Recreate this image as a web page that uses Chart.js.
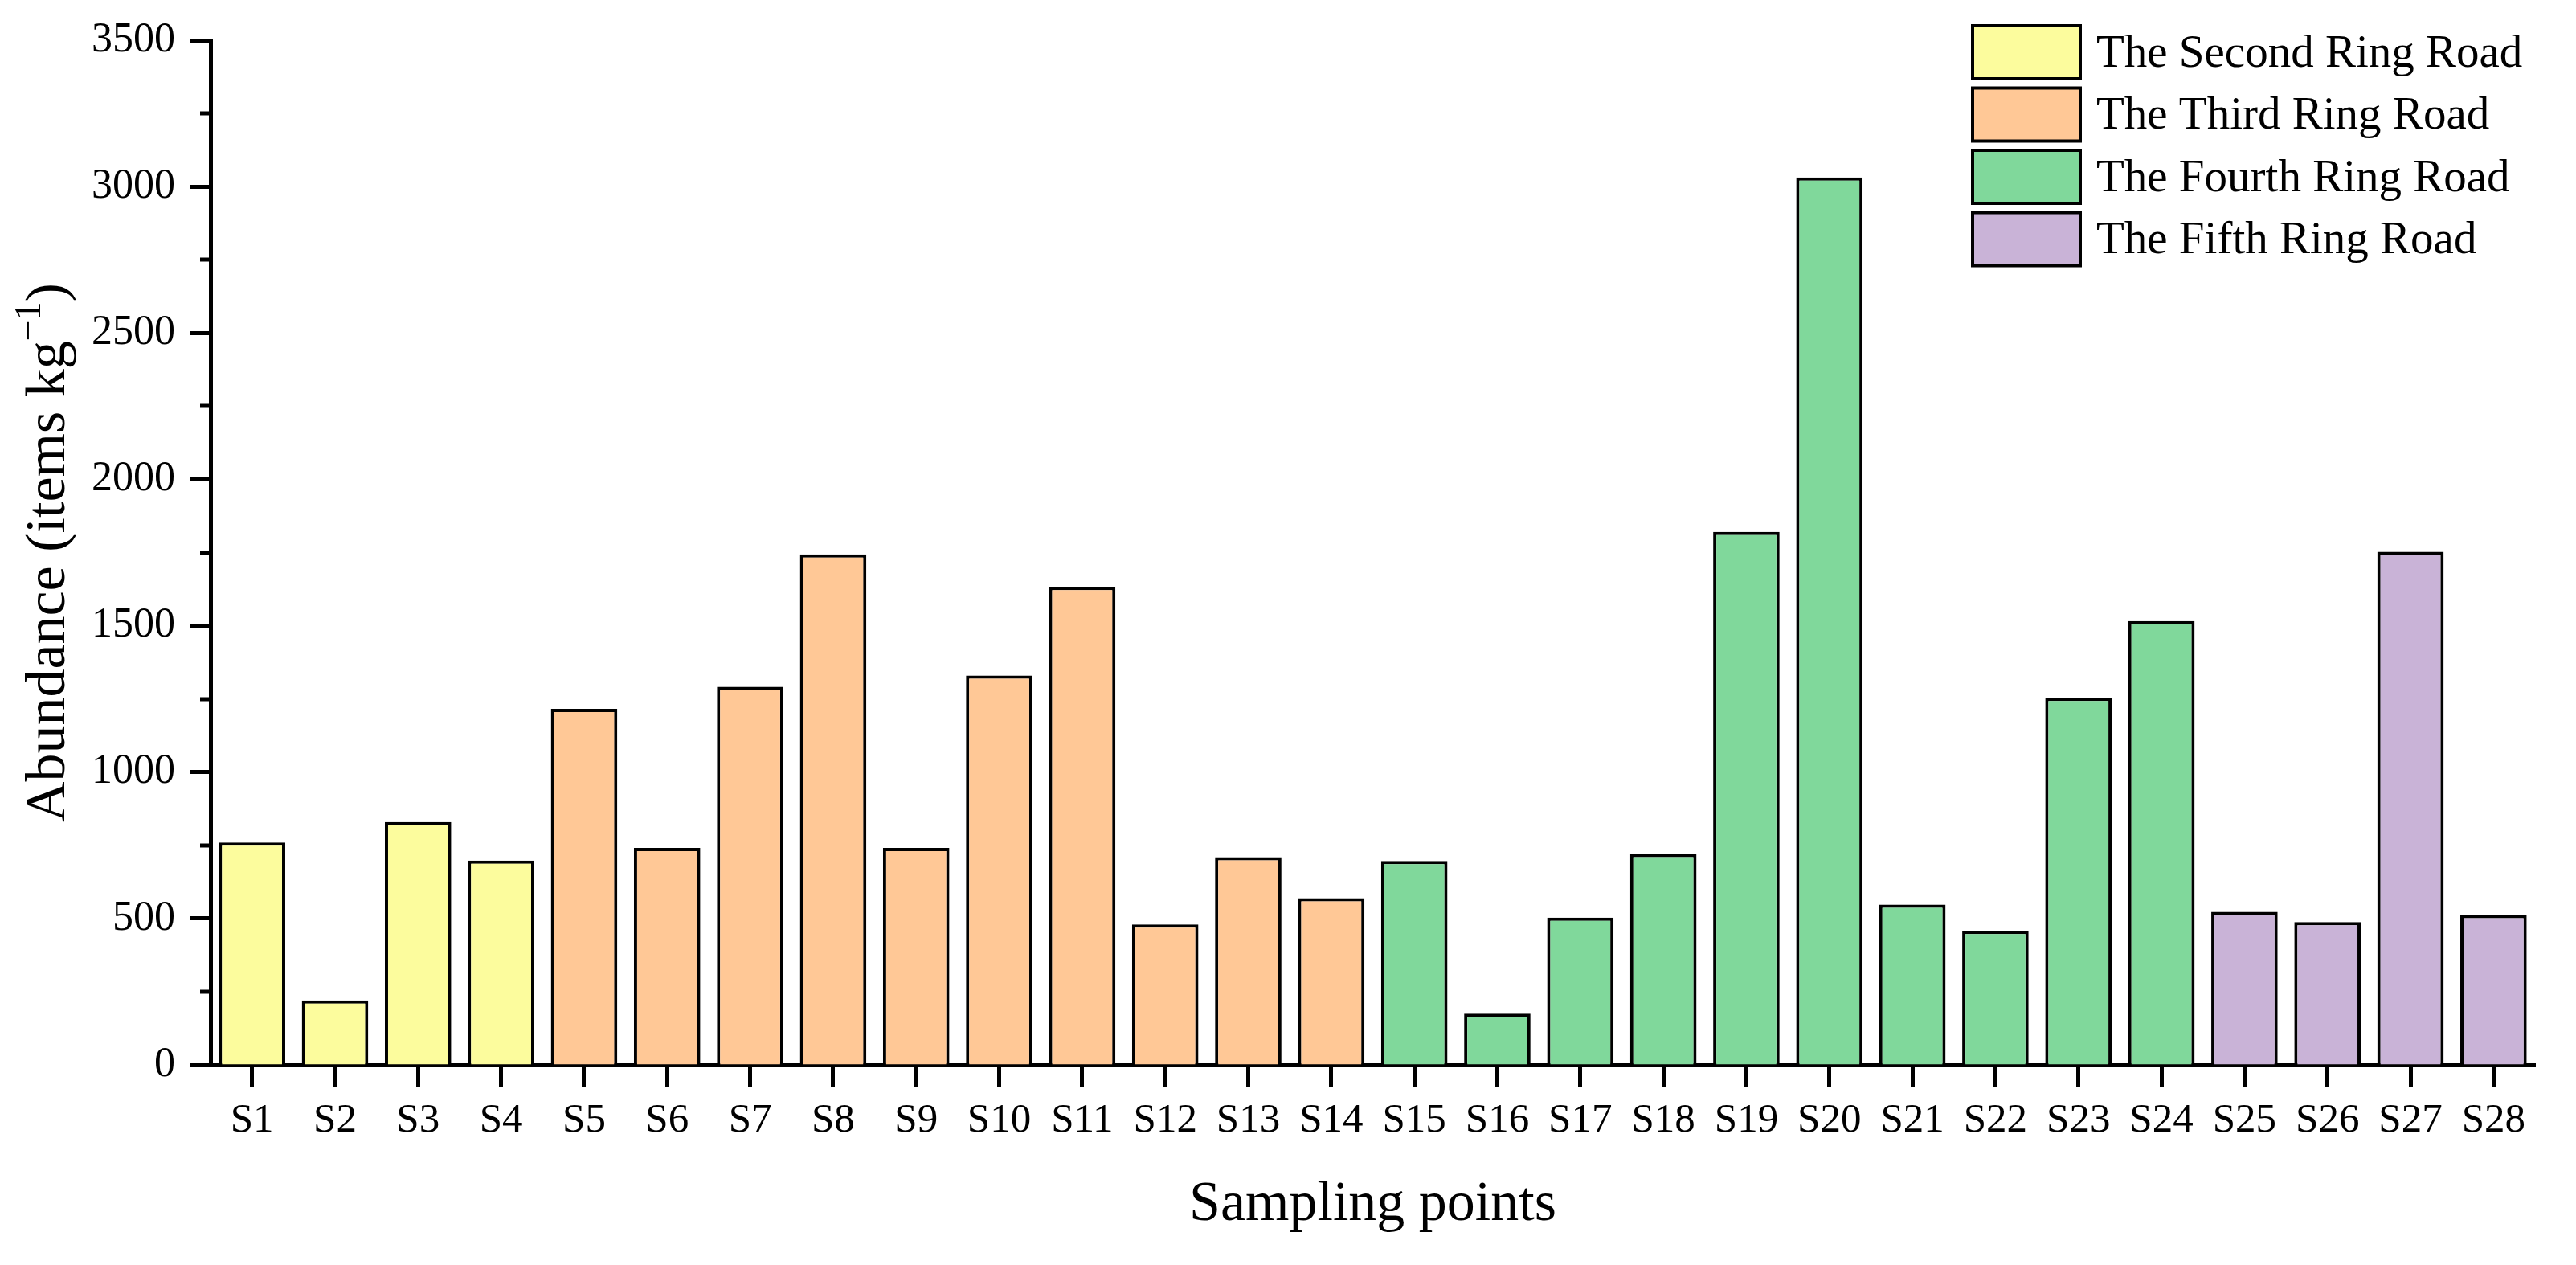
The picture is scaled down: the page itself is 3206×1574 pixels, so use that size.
<!DOCTYPE html>
<html>
<head>
<meta charset="utf-8">
<script src="https://cdn.jsdelivr.net/npm/chart.js@4/dist/chart.umd.min.js"></script>
<style>
  html, body { margin: 0; padding: 0; background: #fff; }
  canvas { display: block; }
</style>
</head>
<body>
<canvas id="chart" width="3206" height="1574"></canvas>
<script>
const categories = ['S1', 'S2', 'S3', 'S4', 'S5', 'S6', 'S7', 'S8', 'S9', 'S10', 'S11', 'S12', 'S13', 'S14',
    'S15', 'S16', 'S17', 'S18', 'S19', 'S20', 'S21', 'S22', 'S23', 'S24', 'S25', 'S26', 'S27', 'S28'];
const abundance = [760, 220, 830, 698, 1216, 741, 1292, 1744, 741, 1330, 1633, 480, 710, 570,
    697, 175, 503, 721, 1821, 3032, 548, 458, 1254, 1516, 523, 488, 1753, 512];
// ring road group of each sampling point (index into groupNames)
const ringGroup = [0, 0, 0, 0, 1, 1, 1, 1, 1, 1, 1, 1, 1, 1, 2, 2, 2, 2, 2, 2, 2, 2, 2, 2, 3, 3, 3, 3];
const groupNames = ['The Second Ring Road', 'The Third Ring Road', 'The Fourth Ring Road', 'The Fifth Ring Road'];
const groupColors = ['#FCFC9D', '#FFC896', '#80D89B', '#C9B3D7'];
const yTicks = [0, 500, 1000, 1500, 2000, 2500, 3000, 3500];
const yMinorTicks = [250, 750, 1250, 1750, 2250, 2750, 3250];

const FONT = '"Liberation Serif", "Times New Roman", serif';

// short minor ticks on the y axis
const minorTicks = {
    id: 'minorTicks',
    afterDraw(chart) {
        const ctx = chart.ctx;
        const y = chart.scales.y;
        ctx.save();
        ctx.strokeStyle = '#000';
        ctx.lineWidth = 5;
        yMinorTicks.forEach((v) => {
            const py = Math.round(y.getPixelForValue(v));
            ctx.beginPath();
            ctx.moveTo(y.right - 13, py);
            ctx.lineTo(y.right, py);
            ctx.stroke();
        });
        ctx.restore();
    }
};

// y axis title with a real superscript
const yTitle = {
    id: 'yTitle',
    afterDraw(chart) {
        const ctx = chart.ctx;
        const area = chart.chartArea;
        const main = '70px ' + FONT;
        const sup = '46px ' + FONT;
        const partA = 'Abundance (items kg';
        const partB = '\u22121';
        const partC = ')';
        ctx.save();
        ctx.fillStyle = '#000';
        ctx.textBaseline = 'alphabetic';
        ctx.font = main;
        const wA = ctx.measureText(partA).width;
        const wC = ctx.measureText(partC).width;
        ctx.font = sup;
        const wB = ctx.measureText(partB).width;
        const total = wA + wB + wC;
        ctx.translate(80, (area.top + area.bottom) / 2);
        ctx.rotate(-Math.PI / 2);
        let x = -total / 2;
        ctx.font = main;
        ctx.fillText(partA, x, 0);
        x += wA;
        ctx.font = sup;
        ctx.fillText(partB, x, -30);
        x += wB;
        ctx.font = main;
        ctx.fillText(partC, x, 0);
        ctx.restore();
    }
};

// legend drawn inside the plot, top right
const ringLegend = {
    id: 'ringLegend',
    afterDraw(chart) {
        const ctx = chart.ctx;
        const boxLeft = 2455, boxW = 134, boxH = 66, rowTop = 32, rowStep = 77.5;
        ctx.save();
        ctx.font = '57px ' + FONT;
        ctx.textBaseline = 'middle';
        groupNames.forEach((name, i) => {
            const top = rowTop + i * rowStep;
            ctx.fillStyle = groupColors[i];
            ctx.fillRect(boxLeft, top, boxW, boxH);
            ctx.strokeStyle = '#000';
            ctx.lineWidth = 4;
            ctx.strokeRect(boxLeft, top, boxW, boxH);
            ctx.fillStyle = '#000';
            ctx.fillText(name, boxLeft + boxW + 20, top + boxH / 2 + 3);
        });
        ctx.restore();
    }
};

const data = {
    labels: categories,
    datasets: [{
        label: 'Abundance',
        data: abundance,
        backgroundColor: ringGroup.map((g) => groupColors[g]),
        borderColor: '#000',
        borderWidth: 4,
        barPercentage: 0.8,
        categoryPercentage: 1.0
    }]
};

const config = {
    type: 'bar',
    data: data,
    options: {
        responsive: false,
        animation: false,
        devicePixelRatio: 1,
        layout: { padding: { left: 0, right: 51, top: 41, bottom: 0 } },
        plugins: {
            legend: { display: false },
            tooltip: { enabled: false },
            title: { display: false }
        },
        scales: {
            x: {
                afterFit: (scale) => { scale.height = 249; },
                grid: {
                    display: true,
                    offset: false,
                    drawOnChartArea: false,
                    drawTicks: true,
                    tickLength: 27,
                    tickWidth: 5,
                    tickColor: '#000'
                },
                border: { display: true, color: '#000', width: 5 },
                ticks: {
                    autoSkip: false,
                    maxRotation: 0,
                    padding: 12,
                    color: '#000',
                    font: { family: FONT, size: 51 }
                },
                title: {
                    display: true,
                    text: 'Sampling points',
                    color: '#000',
                    font: { family: FONT, size: 70 },
                    padding: { top: 0, bottom: 32 }
                }
            },
            y: {
                min: 0,
                max: 3500,
                afterFit: (scale) => { scale.width = 262; },
                afterBuildTicks: (scale) => { scale.ticks = yTicks.map((v) => ({ value: v })); },
                grid: {
                    display: true,
                    drawOnChartArea: false,
                    drawTicks: true,
                    tickLength: 25,
                    tickWidth: 5,
                    tickColor: '#000'
                },
                border: { display: true, color: '#000', width: 5 },
                ticks: {
                    padding: 19,
                    color: '#000',
                    font: { family: FONT, size: 52 },
                    callback: (value) => String(value)
                },
                title: { display: false }
            }
        }
    },
    plugins: [minorTicks, yTitle, ringLegend]
};

new Chart(document.getElementById('chart'), config);
</script>
</body>
</html>
